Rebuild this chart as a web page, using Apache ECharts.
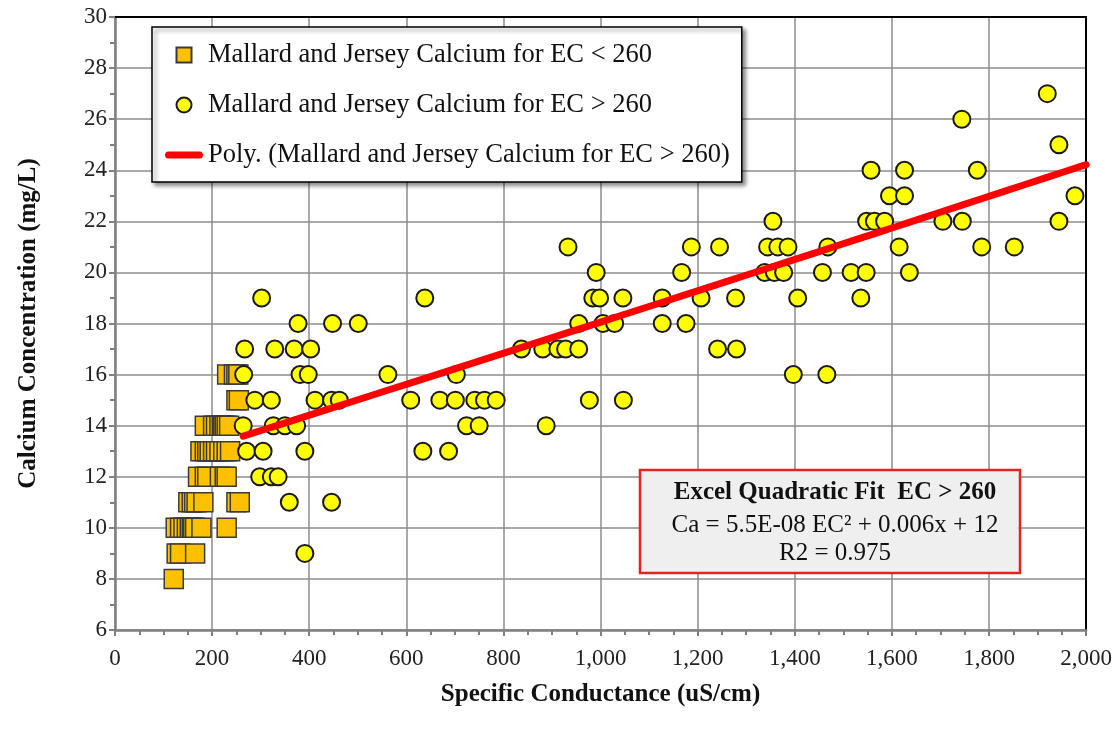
<!DOCTYPE html>
<html>
<head>
<meta charset="utf-8">
<script src="https://cdn.jsdelivr.net/npm/echarts@6/dist/echarts.min.js"></script>
<style>
  html, body { margin: 0; padding: 0; background: #ffffff; }
  #chart { width: 1115px; height: 734px; }
</style>
</head>
<body>
<div id="chart"></div>
<script>
// Samples with specific conductance below 260 uS/cm
const ecLow = [
  121,
  127, 134, 165,
  125, 134, 141, 148, 154, 158, 161, 165, 178, 230,
  151, 158, 163, 168, 182, 250, 257,
  171, 185, 190, 216, 226, 230,
  176, 185, 190, 195, 202, 208, 215, 223, 230, 237,
  185, 202, 208, 215, 220, 223, 226, 230, 235,
  250, 255,
  231, 245, 250, 254
];
const caLow = [
  8,
  9, 9, 9,
  10, 10, 10, 10, 10, 10, 10, 10, 10, 10,
  11, 11, 11, 11, 11, 11, 11,
  12, 12, 12, 12, 12, 12,
  13, 13, 13, 13, 13, 13, 13, 13, 13, 13,
  14, 14, 14, 14, 14, 14, 14, 14, 14,
  15, 15,
  16, 16, 16, 16
];

// Samples with specific conductance above 260 uS/cm
const ecHigh = [
  1920,
  1744,
  1944,
  1557, 1626, 1776,
  1595, 1626, 1977,
  1355, 1548, 1564, 1585, 1705, 1745, 1944,
  933, 1187, 1245, 1344, 1365, 1386, 1468, 1615, 1785, 1852,
  991, 1167, 1338, 1358, 1377, 1457, 1516, 1547, 1636,
  302, 638, 984, 998, 1046, 1127, 1207, 1278, 1406, 1536,
  377, 448, 501, 955, 1005, 1029, 1127, 1176,
  267, 329, 369, 403, 837, 881, 912, 928, 955, 1241, 1280,
  265, 381, 398, 562, 703, 1397, 1466,
  288, 322, 412, 446, 462, 609, 669, 701, 741, 761, 785, 977, 1047,
  264, 326, 350, 374, 724, 750, 888,
  271, 305, 391, 634, 687,
  298, 322, 336,
  359, 446,
  391
];
const caHigh = [
  27,
  26,
  25,
  24, 24, 24,
  23, 23, 23,
  22, 22, 22, 22, 22, 22, 22,
  21, 21, 21, 21, 21, 21, 21, 21, 21, 21,
  20, 20, 20, 20, 20, 20, 20, 20, 20,
  19, 19, 19, 19, 19, 19, 19, 19, 19, 19,
  18, 18, 18, 18, 18, 18, 18, 18,
  17, 17, 17, 17, 17, 17, 17, 17, 17, 17, 17,
  16, 16, 16, 16, 16, 16, 16,
  15, 15, 15, 15, 15, 15, 15, 15, 15, 15, 15, 15, 15,
  14, 14, 14, 14, 14, 14, 14,
  13, 13, 13, 13, 13,
  12, 12, 12,
  11, 11,
  9
];

// Quadratic fit for EC > 260: Ca = a*EC^2 + b*EC + c
const trendCoef = [5.5e-8, 0.006, 12];

const X_MAX = 2000;
const SERIF = '"Liberation Serif", "Times New Roman", serif';
const lowName = 'Mallard and Jersey Calcium for EC < 260';
const highName = 'Mallard and Jersey Calcium for EC > 260';
const trendName = 'Poly. (Mallard and Jersey Calcium for EC > 260)';

const lowPts = ecLow.map((x, i) => [x, caLow[i]]);
const highPts = ecHigh.map((x, i) => [x, caHigh[i]]);

// Trend curve evaluated over the fitted range
const trendStart = Math.min(...ecHigh);
const trendPts = [];
for (let k = 0; k <= 40; k++) {
  const x = trendStart + (X_MAX - trendStart) * k / 40;
  trendPts.push([x, trendCoef[0] * x * x + trendCoef[1] * x + trendCoef[2]]);
}

const withCommas = v => String(v).replace(/\B(?=(\d{3})+(?!\d))/g, ',');
const axisGrey = '#808080';

const chart = echarts.init(document.getElementById('chart'), null, { renderer: 'canvas' });
chart.setOption({
  animation: false,
  backgroundColor: '#ffffff',
  grid: { left: 115, right: 28, top: 17, bottom: 104 },
  xAxis: [{
    type: 'value', min: 0, max: X_MAX, interval: 200,
    axisLine: { onZero: false, lineStyle: { color: axisGrey, width: 2.5 } },
    axisTick: { length: 6, lineStyle: { color: axisGrey, width: 2 } },
    minorTick: { show: true, splitNumber: 4, length: 5, lineStyle: { color: axisGrey, width: 2 } },
    splitLine: { show: true, lineStyle: { color: '#8c8c8c', width: 1.5 } },
    axisLabel: { fontFamily: SERIF, fontSize: 23, color: '#222', margin: 17, formatter: withCommas },
    name: 'Specific Conductance (uS/cm)', nameLocation: 'middle', nameGap: 52,
    nameTextStyle: { fontFamily: SERIF, fontWeight: 'bold', fontSize: 25, color: '#111' }
  }, {
    type: 'value', position: 'top', min: 0, max: X_MAX,
    axisLine: { show: true, onZero: false, lineStyle: { color: '#000', width: 2 } },
    axisTick: { show: false }, axisLabel: { show: false }, splitLine: { show: false }
  }],
  yAxis: [{
    type: 'value', min: 6, max: 30, interval: 2,
    axisLine: { show: true, onZero: false, lineStyle: { color: axisGrey, width: 2.5 } },
    axisTick: { show: true, length: 6, lineStyle: { color: axisGrey, width: 2 } },
    minorTick: { show: true, splitNumber: 2, length: 5, lineStyle: { color: axisGrey, width: 2 } },
    splitLine: { show: true, lineStyle: { color: '#8c8c8c', width: 1.5 } },
    axisLabel: { fontFamily: SERIF, fontSize: 23, color: '#222', margin: 8 },
    name: 'Calcium Concentration (mg/L)', nameLocation: 'middle', nameGap: 74,
    nameTextStyle: { fontFamily: SERIF, fontWeight: 'bold', fontSize: 25, color: '#111' }
  }, {
    type: 'value', position: 'right', min: 6, max: 30, interval: 2,
    axisLine: { show: true, onZero: false, lineStyle: { color: '#000', width: 2 } },
    axisTick: { show: false }, axisLabel: { show: false }, splitLine: { show: false }
  }],
  legend: {
    orient: 'vertical', left: 152, top: 27,
    padding: [14, 12, 13, 13], itemGap: 22, itemWidth: 38, itemHeight: 15,
    backgroundColor: '#ffffff', borderColor: '#000', borderWidth: 1.5,
    shadowColor: 'rgba(0,0,0,0.45)', shadowBlur: 4, shadowOffsetX: 3, shadowOffsetY: 3,
    textStyle: { fontFamily: SERIF, fontSize: 26.5, color: '#111', lineHeight: 28 },
    data: [
      { name: lowName, icon: 'path://M0,0H10V10H0Z' },
      { name: highName, icon: 'circle' },
      {
        name: trendName,
        icon: 'path://M3.5,0H34.5A3.5,3.5 0 0 1 34.5,7H3.5A3.5,3.5 0 0 1 3.5,0Z',
        itemStyle: { color: '#FF0000', borderWidth: 0 }
      }
    ]
  },
  series: [{
    name: lowName, type: 'scatter', data: lowPts, z: 2,
    symbol: 'rect', symbolSize: 19,
    itemStyle: { color: '#FFC000', borderColor: '#3a3a3a', borderWidth: 1.5, opacity: 1 }
  }, {
    name: highName, type: 'scatter', data: highPts, z: 3,
    symbol: 'circle', symbolSize: 17,
    itemStyle: { color: '#FFFF00', borderColor: '#1a1a1a', borderWidth: 2, opacity: 1 }
  }, {
    name: trendName, type: 'line', data: trendPts, z: 4,
    symbol: 'none', showSymbol: false, smooth: false, silent: true,
    lineStyle: { color: '#FF0000', width: 7, cap: 'round' },
    itemStyle: { color: '#FF0000' }
  }],
  graphic: [{
    type: 'group', x: 640, y: 470, z: 100,
    children: [{
      type: 'rect', z: 100, shape: { x: 0, y: 0, width: 380, height: 103 },
      style: { fill: '#efefef', stroke: '#e3231f', lineWidth: 2.5 }
    }, {
      type: 'text', z: 101, x: 195, y: 23,
      style: { text: 'Excel Quadratic Fit  EC > 260', fontFamily: SERIF, fontWeight: 'bold', fontSize: 25, fill: '#111', align: 'center', verticalAlign: 'middle' }
    }, {
      type: 'text', z: 101, x: 195, y: 55,
      style: { text: 'Ca = 5.5E-08 EC² + 0.006x + 12', fontFamily: SERIF, fontSize: 25, fill: '#111', align: 'center', verticalAlign: 'middle' }
    }, {
      type: 'text', z: 101, x: 195, y: 83,
      style: { text: 'R2 = 0.975', fontFamily: SERIF, fontSize: 25, fill: '#111', align: 'center', verticalAlign: 'middle' }
    }]
  }]
});
</script>
</body>
</html>
